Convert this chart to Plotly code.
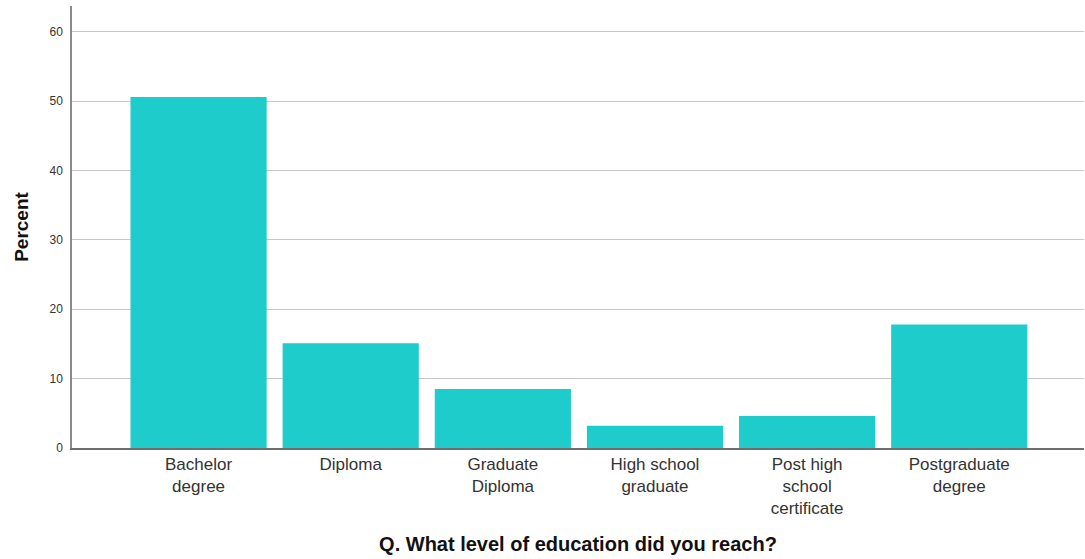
import plotly.graph_objects as go

categories = ["Bachelor degree", "Diploma", "Graduate Diploma", "High school graduate",
              "Post high school certificate", "Postgraduate degree"]
tick_labels = ["Bachelor<br>degree", "Diploma", "Graduate<br>Diploma", "High school<br>graduate",
               "Post high<br>school<br>certificate", "Postgraduate<br>degree"]
percent = [50.6, 15.1, 8.5, 3.2, 4.6, 17.8]
y_ticks = [0, 10, 20, 30, 40, 50, 60]

fig = go.Figure(go.Bar(x=categories, y=percent, marker=dict(color="#1fcccc", line=dict(width=0)),
                       width=0.895, hoverinfo="skip"))

fig.update_layout(
    width=1085, height=559,
    margin=dict(l=72, r=1, t=6, b=111, autoexpand=False),
    paper_bgcolor="white", plot_bgcolor="white",
    font=dict(family="Liberation Sans, Arial, sans-serif", color="#222"),
    showlegend=False,
)
fig.update_xaxes(
    tickmode="array", tickvals=categories, ticktext=tick_labels,
    range=[-0.832, 5.82],
    tickfont=dict(size=17, color="#333"),
    showline=True, linecolor="#6e6e6e", linewidth=1.5,
    showgrid=False, ticks="", automargin=False,
    title=dict(text="<b>Q. What level of education did you reach?</b>", font=dict(size=20, color="#111"),
               standoff=20),
)
fig.update_yaxes(
    tickmode="array", tickvals=y_ticks,
    range=[0, 63.7],
    tickfont=dict(size=12, color="#333"),
    showline=True, linecolor="#8a8a8a", linewidth=1.5,
    showgrid=True, gridcolor="#c8c8c8", gridwidth=1,
    zeroline=False, ticks="", ticklabelstandoff=5, automargin=False,
    title=dict(text="<b>Percent</b>", font=dict(size=19, color="#111"), standoff=16),
)

fig.write_html("out.html", config={"displayModeBar": False},
               post_script="document.body.style.margin='0';")
